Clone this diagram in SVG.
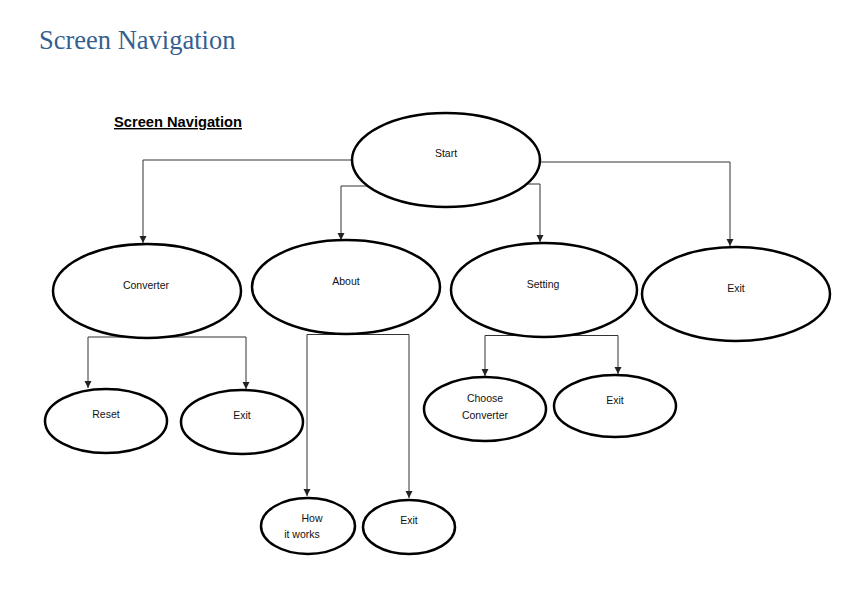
<svg xmlns="http://www.w3.org/2000/svg" width="849" height="597" viewBox="0 0 849 597">
<defs>
<marker id="arr" markerWidth="8" markerHeight="8" refX="7" refY="4" orient="auto" markerUnits="userSpaceOnUse">
<path d="M0,0.5 L7,4 L0,7.5 Z" fill="#222"/>
</marker>
<style>
.n ellipse{fill:#fff;stroke:#000;stroke-width:2.5}
.n text{font-family:"Liberation Sans",Arial,sans-serif;font-size:10.5px;fill:#111;text-anchor:middle}
.c path{fill:none;stroke:#333;stroke-width:1;marker-end:url(#arr)}
</style>
</defs>
<rect width="849" height="597" fill="#fff"/>
<text x="39" y="49" font-family="'Liberation Serif','DejaVu Serif',serif" font-size="26.5" fill="#365F91">Screen Navigation</text>
<text x="114" y="127" font-family="'Liberation Sans',Arial,sans-serif" font-size="14" font-weight="bold" text-decoration="underline" fill="#000" textLength="128" lengthAdjust="spacingAndGlyphs">Screen Navigation</text>
<g id="connectors" class="c">
<path d="M360 160 H143 V243"/>
<path d="M380 186 H341 V240"/>
<path d="M515 184 H540 V242"/>
<path d="M535 162 H730 V246"/>
<path d="M147 337 H88 V388"/>
<path d="M147 337 H246 V389"/>
<path d="M346 334.5 H307 V496"/>
<path d="M346 334.5 H409 V498"/>
<path d="M544 335.5 H485 V376"/>
<path d="M544 335.5 H618 V374"/>
</g>
<g id="start" class="n"><ellipse cx="446" cy="160" rx="94" ry="47"/><text x="446" y="157">Start</text></g>
<g id="converter" class="n"><ellipse cx="147" cy="291" rx="94" ry="47"/><text x="146" y="289">Converter</text></g>
<g id="about" class="n"><ellipse cx="346" cy="287" rx="94" ry="47"/><text x="346" y="285">About</text></g>
<g id="setting" class="n"><ellipse cx="544" cy="290" rx="93" ry="47"/><text x="543" y="288">Setting</text></g>
<g id="exit-main" class="n"><ellipse cx="736" cy="294" rx="94" ry="47"/><text x="736" y="292">Exit</text></g>
<g id="reset" class="n"><ellipse cx="106" cy="421" rx="61" ry="32"/><text x="106" y="418">Reset</text></g>
<g id="exit-converter" class="n"><ellipse cx="242" cy="422" rx="61" ry="32"/><text x="242" y="419">Exit</text></g>
<g id="choose-converter" class="n"><ellipse cx="485" cy="409" rx="61" ry="32"/><text x="485" y="402">Choose</text><text x="485" y="419">Converter</text></g>
<g id="exit-setting" class="n"><ellipse cx="615" cy="406" rx="61" ry="31"/><text x="615" y="404">Exit</text></g>
<g id="how-it-works" class="n"><ellipse cx="308" cy="526" rx="47" ry="28"/><text x="312" y="522">How</text><text x="302" y="538">it works</text></g>
<g id="exit-about" class="n"><ellipse cx="409" cy="527" rx="46" ry="27"/><text x="409" y="524">Exit</text></g>
</svg>
